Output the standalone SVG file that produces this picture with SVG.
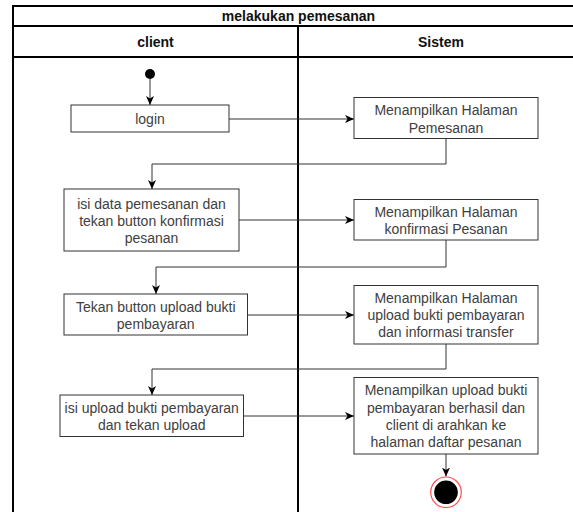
<svg xmlns="http://www.w3.org/2000/svg" width="573" height="512" viewBox="0 0 573 512">
<style>
.lane{fill:none;stroke:#000;stroke-width:2}
.box{fill:#fff;stroke:#333;stroke-width:1}
.t{font-family:"Liberation Sans",Arial,sans-serif;font-size:14px;fill:#404040;text-anchor:middle;dominant-baseline:central}
.h{font-family:"Liberation Sans",Arial,sans-serif;font-size:14px;font-weight:bold;fill:#111;text-anchor:middle;dominant-baseline:central}
.c{fill:none;stroke:#333;stroke-width:1;marker-end:url(#arr)}
</style>
<defs>
<marker id="arr" markerUnits="userSpaceOnUse" markerWidth="10" markerHeight="9" refX="9" refY="4" orient="auto">
<path d="M0,0 L9,4 L0,8 L2.5,4 z" fill="#000"/>
</marker>
</defs>
<rect width="573" height="512" fill="#fff"/>
<g id="pool">
<path class="lane" d="M13,512 V6 H584 M13,26 H584 M13,57 H584 M298,26 V512"/>
<text class="h" x="298.5" y="16">melakukan pemesanan</text>
<text class="h" x="155.5" y="41.5">client</text>
<text class="h" x="441" y="41.5">Sistem</text>
</g>
<g id="connectors">
<path class="c" d="M150,79 V105"/>
<path class="c" d="M229,119 H354"/>
<path class="c" d="M446,138.5 V164 H152 V189"/>
<path class="c" d="M239,220 H354"/>
<path class="c" d="M446,240 V267 H156 V294"/>
<path class="c" d="M247.5,315 H354"/>
<path class="c" d="M446,344 V369 H152 V395"/>
<path class="c" d="M243.5,416 H354"/>
<path class="c" d="M446,454 V476.5"/>
</g>
<g id="start"><circle cx="150" cy="74" r="5" fill="#000"/></g>
<g id="login">
<rect class="box" x="71" y="105" width="158" height="27"/>
<text class="t" x="150" y="119">login</text>
</g>
<g id="sys1">
<rect class="box" x="354" y="97.5" width="184" height="41"/>
<text class="t" x="446" y="110">Menampilkan Halaman</text>
<text class="t" x="446" y="127.5">Pemesanan</text>
</g>
<g id="isidata">
<rect class="box" x="64" y="189" width="175" height="62"/>
<text class="t" x="151.5" y="203.5">isi data pemesanan dan</text>
<text class="t" x="151.5" y="220.5">tekan button konfirmasi</text>
<text class="t" x="151.5" y="237.5">pesanan</text>
</g>
<g id="sys2">
<rect class="box" x="354" y="199.5" width="184" height="40.5"/>
<text class="t" x="446" y="211.5">Menampilkan Halaman</text>
<text class="t" x="446" y="229">konfirmasi Pesanan</text>
</g>
<g id="tekan">
<rect class="box" x="64" y="294" width="183.5" height="41"/>
<text class="t" x="155.75" y="307">Tekan button upload bukti</text>
<text class="t" x="155.75" y="324">pembayaran</text>
</g>
<g id="sys3">
<rect class="box" x="354" y="285.5" width="184" height="58.5"/>
<text class="t" x="446" y="297.5">Menampilkan Halaman</text>
<text class="t" x="446" y="315">upload bukti pembayaran</text>
<text class="t" x="446" y="332">dan informasi transfer</text>
</g>
<g id="isiupload">
<rect class="box" x="60" y="395" width="183.5" height="41.5"/>
<text class="t" x="151.75" y="407.5">isi upload bukti pembayaran</text>
<text class="t" x="151.75" y="425">dan tekan upload</text>
</g>
<g id="sys4">
<rect class="box" x="354" y="377.5" width="184" height="76.5"/>
<text class="t" x="446" y="390">Menampilkan upload bukti</text>
<text class="t" x="446" y="407.5">pembayaran berhasil dan</text>
<text class="t" x="446" y="424.5">client di arahkan ke</text>
<text class="t" x="446" y="441.5">halaman daftar pesanan</text>
</g>
<g id="end">
<circle cx="446" cy="492.3" r="15.3" fill="#fff" stroke="#ff4d4d" stroke-width="1.2"/>
<circle cx="446" cy="492.3" r="11.8" fill="#000"/>
</g>
</svg>
